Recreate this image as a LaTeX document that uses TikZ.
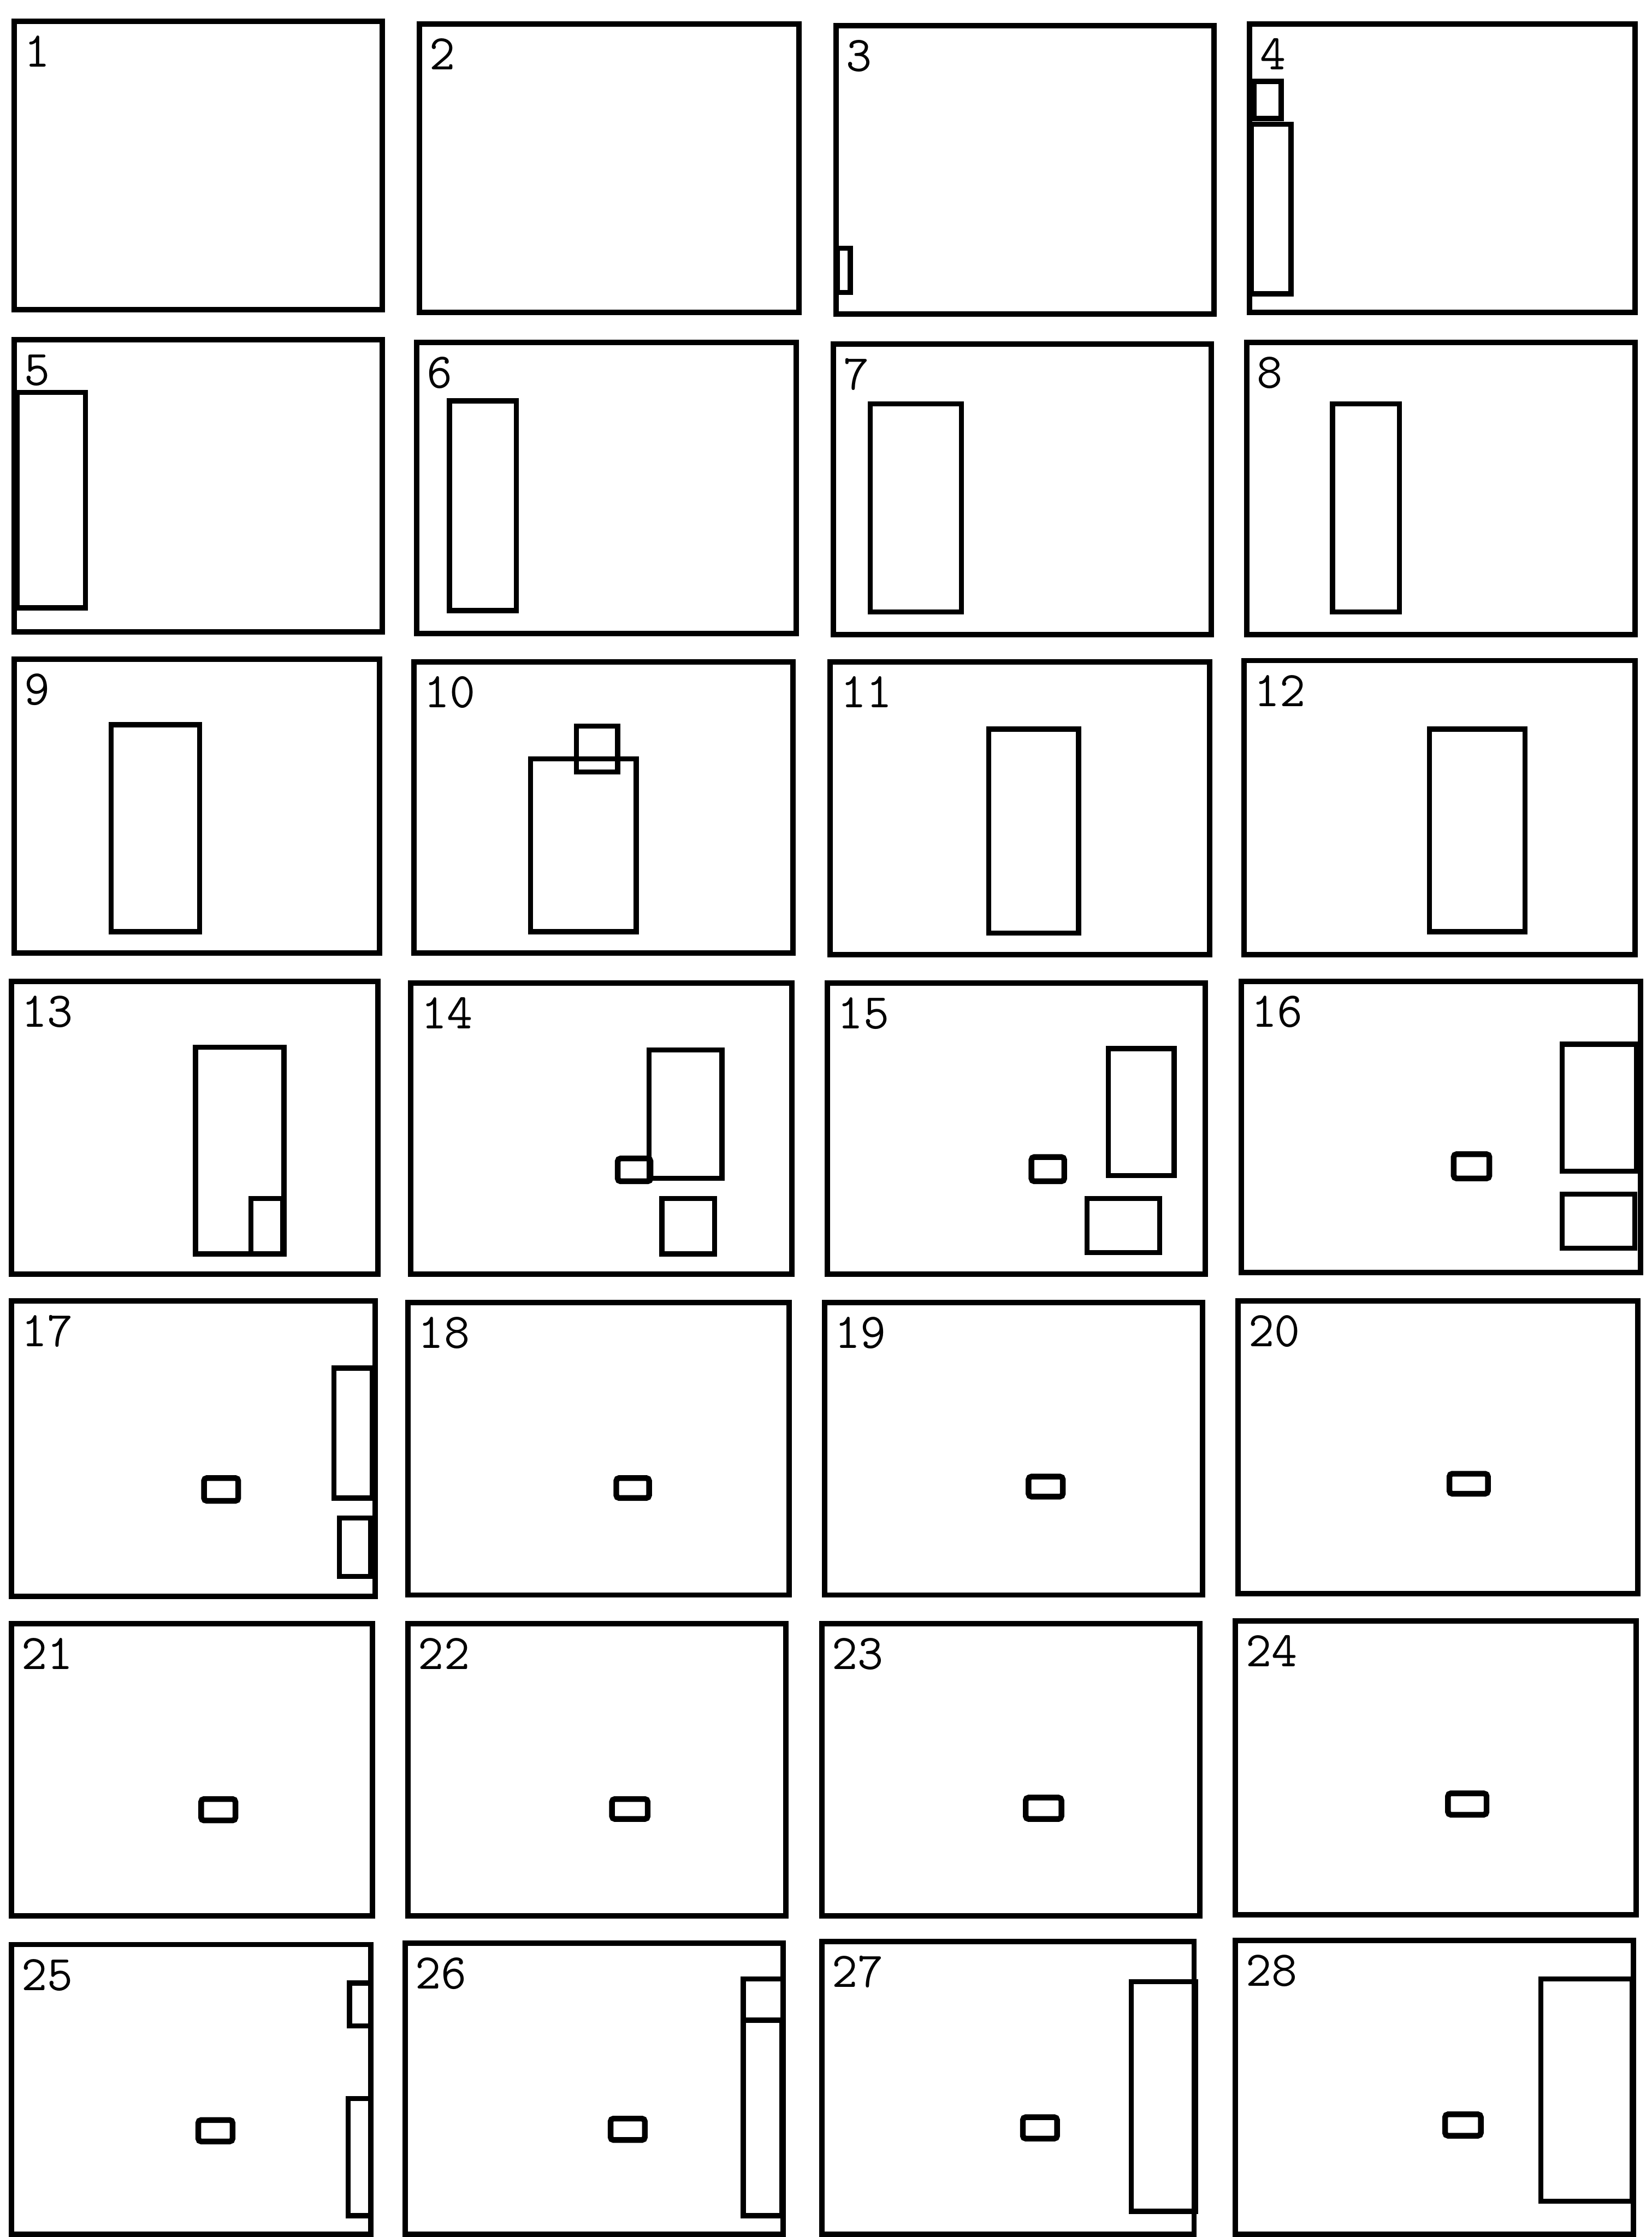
\documentclass[tikz,border=0pt]{standalone}
\tikzset{
  frame/.style={draw=black, line width=3.8pt},
  part/.style={draw=black, line width=3.6pt},
  tiny/.style={draw=black, line width=4pt, rounded corners=2pt},
  num/.style={anchor=base west, inner sep=0pt, font=\fontsize{35}{35}\selectfont\ttfamily}
}
\newcommand{\panel}[5]{%
  \draw[frame] (#1,#2) rectangle (#3,#4);
  \node[num] (n#5) at (#1+7,#2+32) {#5};
}
\begin{document}
\begin{tikzpicture}[x=1pt,y=-1pt]
\useasboundingbox (0,0) rectangle (1158,1568);
% row 1
\panel{10}{15}{268}{217}{1}
\panel{294}{17}{560}{219}{2}
\panel{586}{18}{851}{220}{3}
\panel{876}{17}{1146}{219}{4}
\draw[part] (587,174) rectangle (596,205);
\draw[part] (879,57) rectangle (898,83);
\draw[part] (877,87) rectangle (905,206);
% row 2
\panel{10}{238}{268}{443}{5}
\panel{292}{240}{558}{444}{6}
\panel{584}{241}{849}{445}{7}
\panel{874}{240}{1146}{445}{8}
\draw[part] (12,275) rectangle (60,426);
\draw[part] (315,281) rectangle (362,428);
\draw[part] (610,283) rectangle (674,429);
\draw[part] (934,283) rectangle (981,429);
% row 3
\panel{10}{462}{266}{668}{9}
\panel{290}{464}{556}{668}{10}
\panel{582}{464}{848}{669}{11}
\panel{872}{463}{1146}{669}{12}
\draw[part] (78,508) rectangle (140,653);
\draw[part] (372,532) rectangle (446,653);
\draw[part] (404,509) rectangle (433,541);
\draw[part] (693,511) rectangle (756,654);
\draw[part] (1002,511) rectangle (1069,653);
% row 4
\panel{8}{688}{265}{893}{13}
\panel{288}{689}{555}{893}{14}
\panel{580}{689}{845}{893}{15}
\panel{870}{688}{1150}{892}{16}
\draw[part] (137,734) rectangle (199,879);
\draw[part] (176,840) rectangle (198,879);
\draw[part] (455,736) rectangle (506,826);
\draw[tiny] (433,812) rectangle (456,828);
\draw[part] (464,840) rectangle (501,879);
\draw[tiny] (723,811) rectangle (746,828);
\draw[part] (777,735) rectangle (823,824);
\draw[part] (762,840) rectangle (813,878);
\draw[tiny] (1019,809) rectangle (1044,826);
\draw[part] (1095,732) rectangle (1147,821);
\draw[part] (1095,837) rectangle (1146,875);
% row 5
\panel{8}{912}{263}{1119}{17}
\panel{286}{913}{553}{1118}{18}
\panel{578}{913}{843}{1118}{19}
\panel{868}{912}{1148}{1117}{20}
\draw[tiny] (143,1036) rectangle (167,1052);
\draw[part] (234,959) rectangle (261,1050);
\draw[part] (238,1064) rectangle (260,1105);
\draw[tiny] (432,1036) rectangle (455,1050);
\draw[tiny] (721,1035) rectangle (745,1049);
\draw[tiny] (1016,1033) rectangle (1043,1047);
% row 6
\panel{8}{1138}{261}{1343}{21}
\panel{286}{1138}{551}{1343}{22}
\panel{576}{1138}{841}{1343}{23}
\panel{866}{1136}{1147}{1342}{24}
\draw[tiny] (141,1261) rectangle (165,1276);
\draw[tiny] (429,1261) rectangle (454,1275);
\draw[tiny] (719,1260) rectangle (744,1275);
\draw[tiny] (1015,1257) rectangle (1042,1272);
% row 7
\panel{8}{1363}{260}{1566}{25}
\panel{284}{1362}{549}{1566}{26}
\panel{576}{1361}{837}{1566}{27}
\panel{866}{1360}{1145}{1566}{28}
\draw[tiny] (139,1486) rectangle (163,1501);
\draw[part] (245,1390) rectangle (260,1420);
\draw[part] (244,1471) rectangle (260,1553);
\draw[tiny] (428,1485) rectangle (452,1500);
\draw[part] (521,1387) rectangle (549,1416);
\draw[part] (521,1416) rectangle (548,1553);
\draw[tiny] (717,1484) rectangle (741,1499);
\draw[part] (793,1389) rectangle (838,1550);
\draw[tiny] (1013,1482) rectangle (1038,1497);
\draw[part] (1080,1387) rectangle (1144,1543);
\end{tikzpicture}
\end{document}
